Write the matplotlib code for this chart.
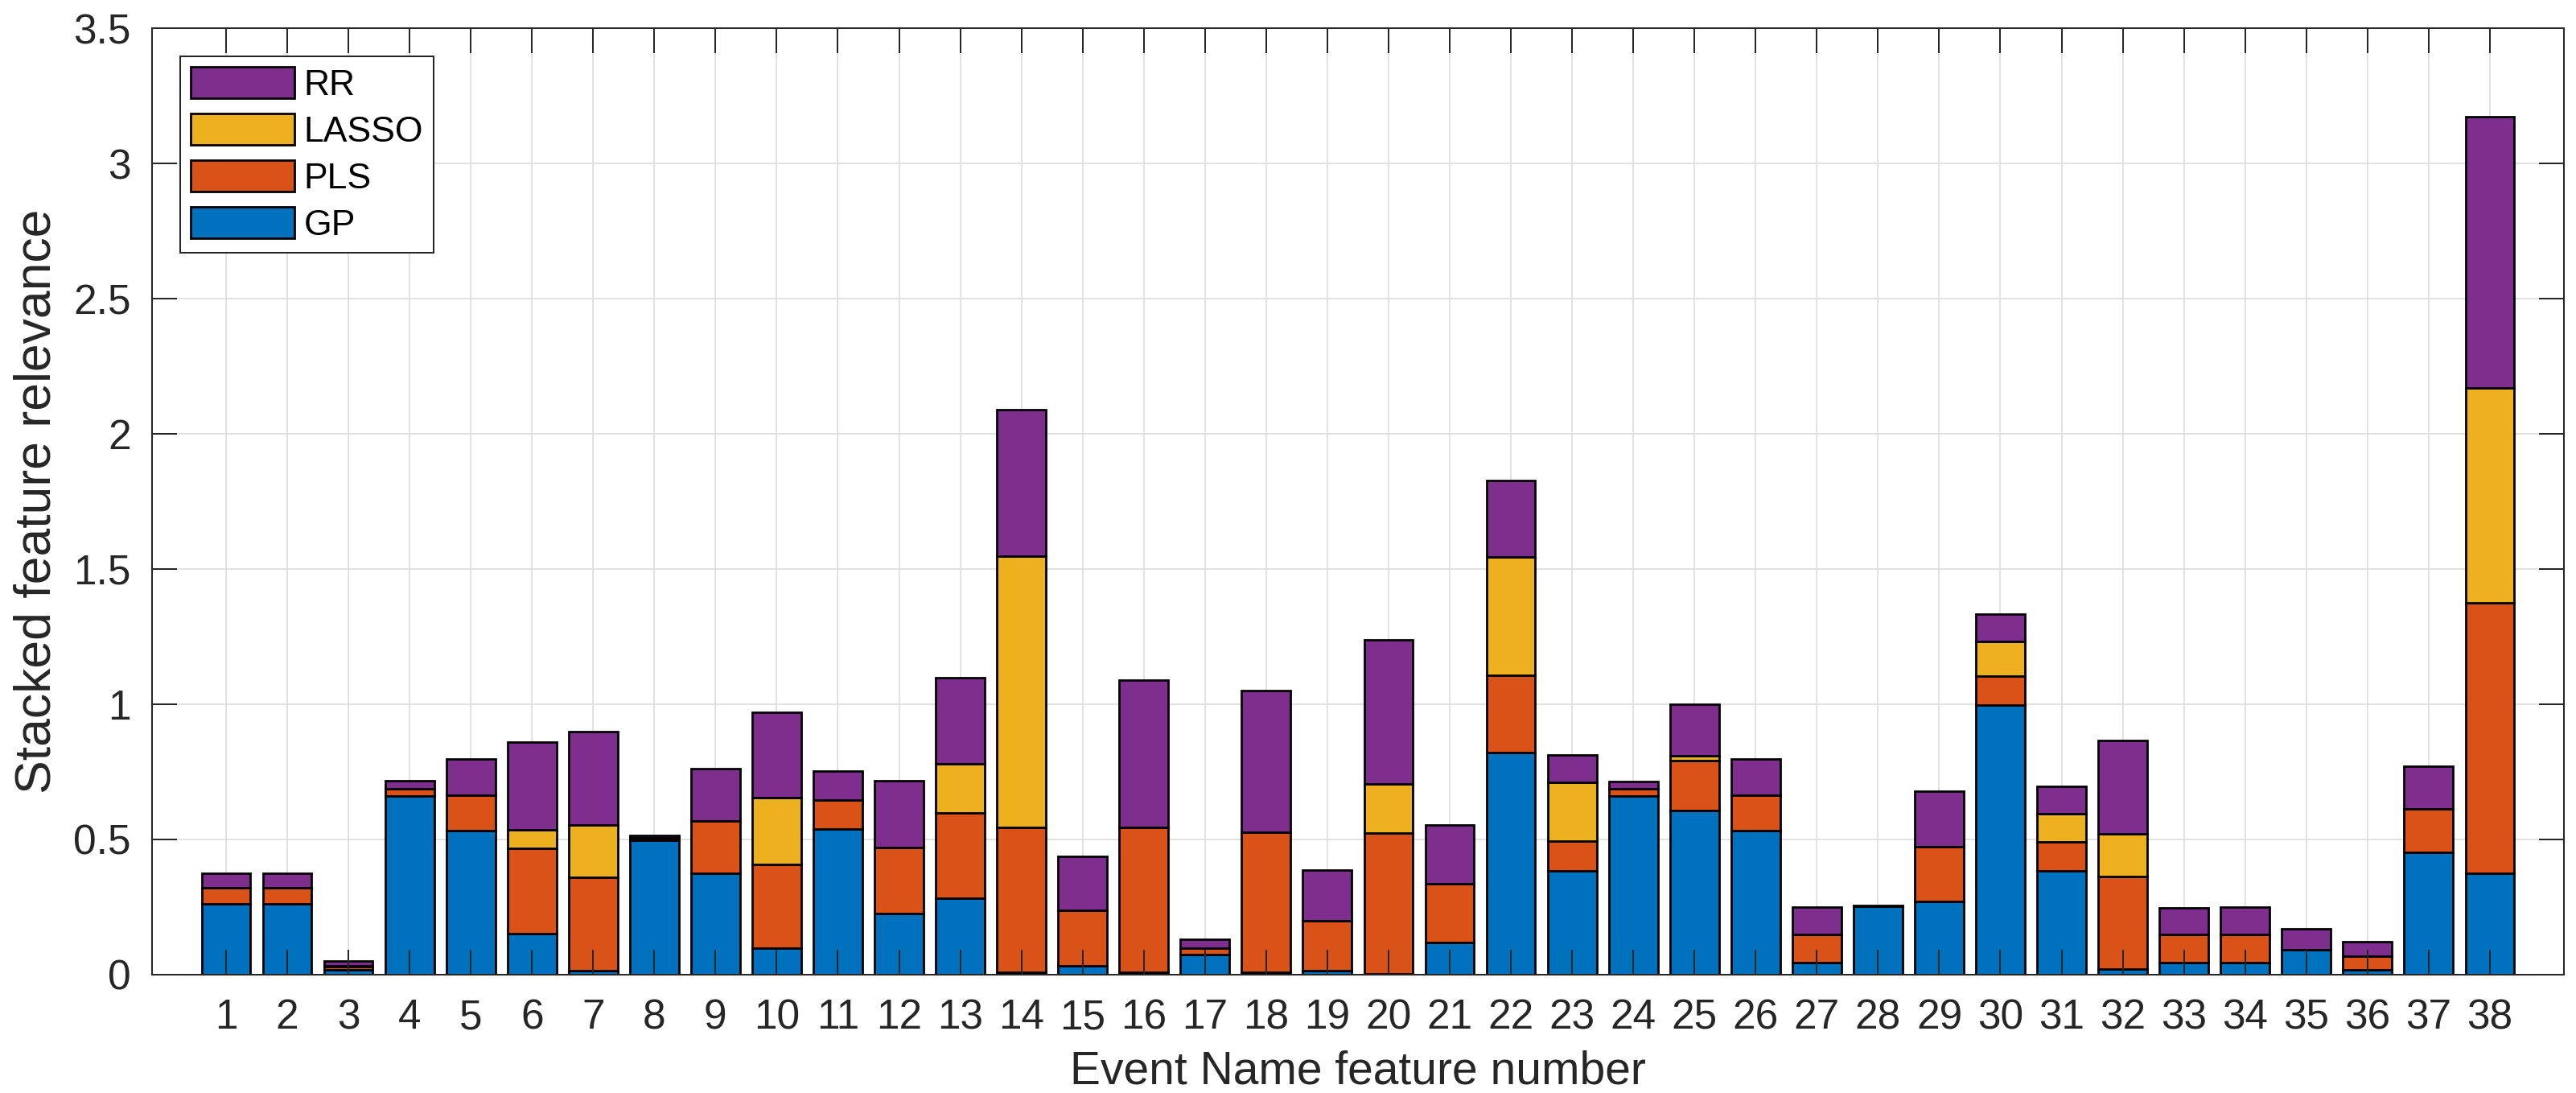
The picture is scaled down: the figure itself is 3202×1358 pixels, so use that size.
import numpy as np
import matplotlib
matplotlib.use('Agg')
import matplotlib.pyplot as plt

# Feature numbers on the x axis
features = list(range(1, 39))

# Segment heights per method (stacked bottom to top: GP, PLS, LASSO, RR)
gp = [0.262, 0.262, 0.018, 0.662, 0.533, 0.153, 0.014, 0.498, 0.375, 0.098,
      0.539, 0.227, 0.283, 0.008, 0.034, 0.008, 0.073, 0.008, 0.016, 0.003,
      0.118, 0.822, 0.385, 0.662, 0.607, 0.534, 0.045, 0.254, 0.271, 0.998,
      0.383, 0.020, 0.043, 0.043, 0.091, 0.018, 0.451, 0.374]
pls = [0.058, 0.058, 0.012, 0.026, 0.132, 0.315, 0.347, 0.008, 0.192, 0.311,
       0.107, 0.243, 0.315, 0.537, 0.203, 0.537, 0.025, 0.519, 0.184, 0.522,
       0.217, 0.284, 0.109, 0.026, 0.186, 0.131, 0.105, 0.000, 0.203, 0.105,
       0.107, 0.344, 0.105, 0.105, 0.000, 0.050, 0.162, 1.000]
lasso = [0.000, 0.000, 0.003, 0.000, 0.000, 0.067, 0.191, 0.000, 0.000, 0.247,
         0.000, 0.000, 0.182, 1.002, 0.000, 0.000, 0.000, 0.000, 0.000, 0.179,
         0.000, 0.439, 0.216, 0.000, 0.017, 0.000, 0.000, 0.000, 0.000, 0.129,
         0.105, 0.158, 0.000, 0.000, 0.000, 0.000, 0.000, 0.797]
rr = [0.056, 0.056, 0.016, 0.028, 0.131, 0.324, 0.348, 0.010, 0.195, 0.313,
      0.106, 0.248, 0.317, 0.543, 0.199, 0.545, 0.033, 0.523, 0.186, 0.533,
      0.218, 0.282, 0.102, 0.027, 0.190, 0.131, 0.101, 0.003, 0.205, 0.100,
      0.100, 0.344, 0.100, 0.102, 0.078, 0.053, 0.157, 1.002]

methods = ['GP', 'PLS', 'LASSO', 'RR']
colors = ['#0072BD', '#D95319', '#EDB120', '#7E2F8E']

y_ticks = [0, 0.5, 1, 1.5, 2, 2.5, 3, 3.5]
y_tick_labels = ['0', '0.5', '1', '1.5', '2', '2.5', '3', '3.5']

plt.rcParams['font.family'] = ['Liberation Sans', 'DejaVu Sans']
text_color = '#262626'

fig = plt.figure(figsize=(32.02, 13.58), dpi=100)
ax = fig.add_axes([0.0590, 0.1083, 0.9363, 0.8659])

# Stacked bars
series = [gp, pls, lasso, rr]
bottom = np.zeros(len(features))
handles = []
for vals, name, col in zip(series, methods, colors):
    h = ax.bar(features, vals, width=0.8, bottom=bottom, color=col,
               edgecolor='black', linewidth=2.0, label=name, zorder=1)
    handles.append(h)
    bottom += np.array(vals)

ax.set_xlim(-0.21, 39.21)
ax.set_ylim(0, 3.5)
ax.set_xticks(features)
ax.set_yticks(y_ticks)
ax.set_yticklabels(y_tick_labels)

# Grid drawn behind the bars, ticks stay on top
for y in y_ticks:
    ax.axhline(y, color='#dedede', linewidth=1.25, zorder=0)
for x in features:
    ax.axvline(x, color='#dedede', linewidth=1.25, zorder=0)
ax.set_axisbelow(False)

ax.tick_params(axis='both', direction='in', length=22, width=1.45,
               color=text_color, labelcolor=text_color, labelsize=37,
               top=True, right=True)
ax.tick_params(axis='x', pad=21)
ax.tick_params(axis='y', pad=19)
for sp in ax.spines.values():
    sp.set_color(text_color)
    sp.set_linewidth(1.45)

ax.set_xlabel('Event Name feature number', fontsize=41, color=text_color, labelpad=11)
ax.set_ylabel('Stacked feature relevance', fontsize=45, color=text_color, labelpad=11)

# Legend in reverse stacking order
leg = ax.legend(handles[::-1], methods[::-1], loc='upper left',
                bbox_to_anchor=(224 / 3202, 1 - 70 / 1358),
                bbox_transform=fig.transFigure, borderaxespad=0,
                fontsize=32, fancybox=False, framealpha=1,
                handlelength=2.9, handleheight=0.97, handletextpad=0.25,
                labelspacing=0.32, borderpad=0.3)
leg.get_frame().set_edgecolor(text_color)
leg.get_frame().set_linewidth(1.45)

fig.savefig('out.png', dpi=100)
